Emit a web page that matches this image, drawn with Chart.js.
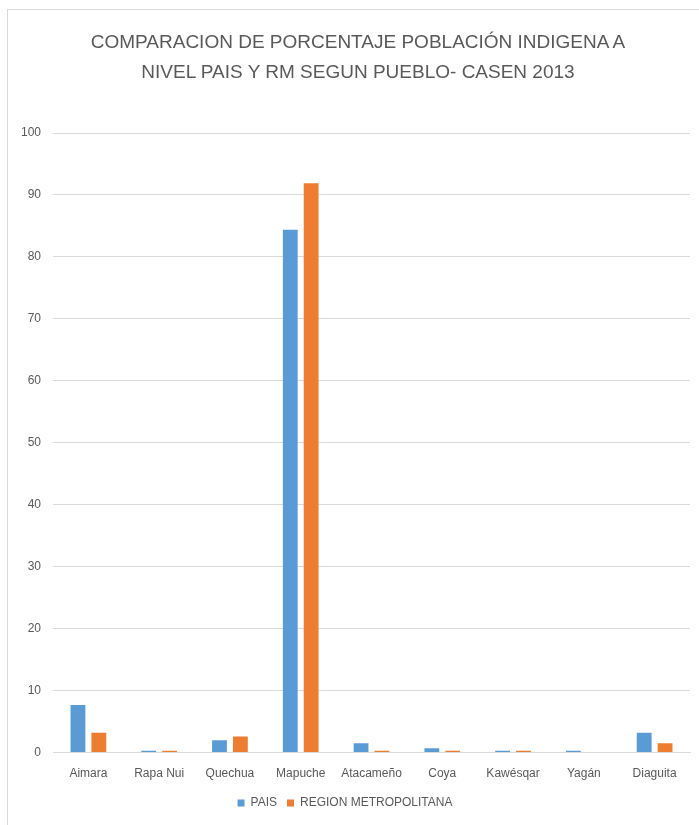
<!DOCTYPE html>
<html>
<head>
<meta charset="utf-8">
<script src="https://cdn.jsdelivr.net/npm/chart.js@4/dist/chart.umd.min.js"></script>
<style>
  html, body { margin: 0; padding: 0; background: #fff; }
  #frame { position: absolute; left: 7px; top: 9px; width: 700px; height: 830px;
           border-left: 1px solid #d9d9d9; border-top: 1px solid #d9d9d9; }
  #wrap { position: absolute; left: 0; top: 0; width: 699px; height: 825px; }
  #title { position: absolute; left: 17px; top: 27px; width: 682px; text-align: center;
           font-family: 'Liberation Sans', sans-serif; font-size: 19px; line-height: 30px; color: #595959; }
</style>
</head>
<body>
<div id="frame"></div>
<div id="wrap"><canvas id="chart" width="699" height="825"></canvas></div>
<div id="title"></div>
<script>
const pueblos = ['Aimara', 'Rapa Nui', 'Quechua', 'Mapuche', 'Atacameño', 'Coya', 'Kawésqar', 'Yagán', 'Diaguita'];
const pais = [7.7, 0.3, 2.0, 84.4, 1.5, 0.7, 0.3, 0.3, 3.2];
const regionMetropolitana = [3.2, 0.3, 2.6, 91.9, 0.3, 0.3, 0.3, 0, 1.5];
const titleLines = ['COMPARACION DE PORCENTAJE POBLACIÓN INDIGENA A', 'NIVEL PAIS Y RM SEGUN PUEBLO- CASEN 2013'];

const font = "'Liberation Sans', sans-serif";
const grey = '#595959';

document.addEventListener('DOMContentLoaded', function() {
    document.getElementById('title').innerHTML = titleLines.join('<br>');

    var ctx = document.getElementById('chart').getContext('2d');

    var chart = new Chart(ctx, {
        type: 'bar',
        data: {
            labels: pueblos,
            datasets: [{
                label: 'PAIS',
                data: pais,
                backgroundColor: '#5b9bd5',
                categoryPercentage: 0.59,
                barPercentage: 0.71,
            }, {
                label: 'REGION METROPOLITANA',
                data: regionMetropolitana,
                backgroundColor: '#ed7d31',
                categoryPercentage: 0.59,
                barPercentage: 0.71,
            }],
        },
        options: {
            responsive: false,
            animation: false,
            layout: { padding: { left: 0, right: 9, top: 133, bottom: 6 } },
            plugins: {
                legend: {
                    position: 'bottom',
                    labels: {
                        color: grey,
                        font: { family: font, size: 12 },
                        boxWidth: 7,
                        boxHeight: 7,
                        padding: 10,
                    },
                },
                tooltip: { enabled: false },
            },
            scales: {
                x: {
                    grid: { display: false },
                    border: { display: true, color: '#d9d9d9' },
                    ticks: { color: grey, font: { family: font, size: 12 }, padding: 6, maxRotation: 0 },
                },
                y: {
                    min: 0,
                    max: 100,
                    afterFit: function(scale) { scale.width = 53; },
                    grid: { color: '#d9d9d9', drawTicks: false },
                    border: { display: false },
                    ticks: { stepSize: 10, color: grey, font: { family: font, size: 12 }, padding: 12 },
                },
            },
        },
    });
});
</script>
</body>
</html>
